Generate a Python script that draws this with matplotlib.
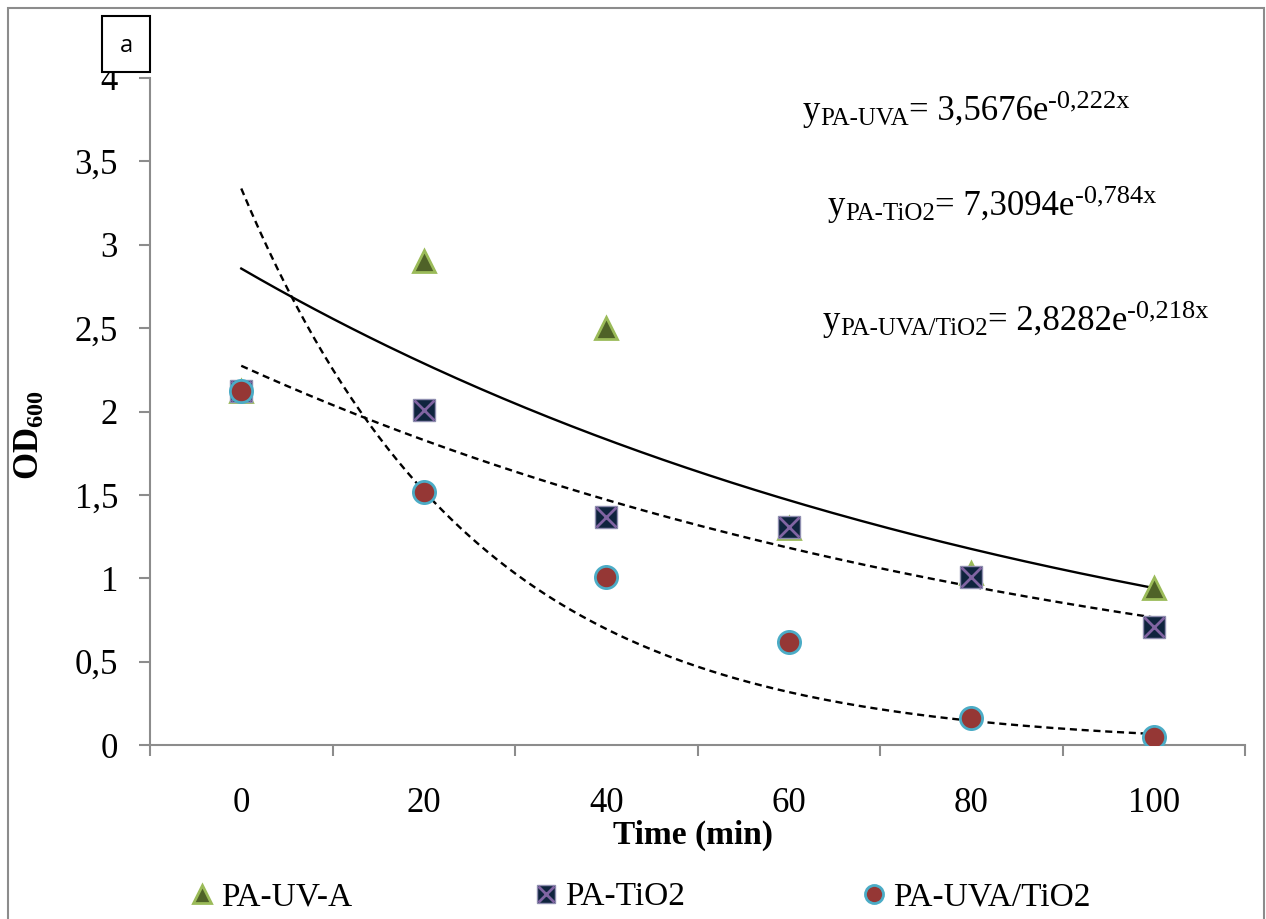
import numpy as np
import matplotlib
matplotlib.use("Agg")
import matplotlib.pyplot as plt
from matplotlib.patches import Rectangle
from matplotlib.legend_handler import HandlerTuple

plt.rcParams['font.family'] = ['Liberation Serif', 'DejaVu Serif']
plt.rcParams['mathtext.fontset'] = 'custom'
plt.rcParams['mathtext.rm'] = 'Liberation Serif'
plt.rcParams['mathtext.it'] = 'Liberation Serif:italic'
plt.rcParams['mathtext.bf'] = 'Liberation Serif:bold'

# ---- data ----
time_labels = ["0", "20", "40", "60", "80", "100"]
uva = [2.12, 2.90, 2.50, 1.30, 1.03, 0.94]
tio2 = [2.12, 2.01, 1.37, 1.31, 1.01, 0.71]
uva_tio2 = [2.12, 1.52, 1.01, 0.62, 0.16, 0.05]
series_names = ['PA-UV-A', 'PA-TiO2', 'PA-UVA/TiO2']

# exponential trendline coefficients (as displayed): y = a * exp(b * x), x = category index 1..6
trend_a = [3.5676, 7.3094, 2.8282]
trend_b = [-0.222, -0.784, -0.218]
trend_styles = ['-', (0, (3, 2)), (0, (3, 2))]

eq_subs = ['PA-UVA', 'PA-TiO2', 'PA-UVA/TiO2']
eq_coef = ['3,5676', '7,3094', '2,8282']
eq_exp = ['-0,222x', '-0,784x', '-0,218x']

W, H = 1266, 919
fig = plt.figure(figsize=(W / 100, H / 100), dpi=100)
ax = fig.add_axes([150 / W, 1 - 745 / H, (1245 - 150) / W, (745 - 78) / H])

x = np.arange(1, len(time_labels) + 1)

# trendlines
xs = np.linspace(1, 6, 200)
for a, b, ls in zip(trend_a, trend_b, trend_styles):
    ax.plot(xs, a * np.exp(b * xs), color='black', lw=1.7, linestyle=ls, zorder=2)

tri_kw = dict(linestyle='none', marker='^', markerfacecolor='#4F6228',
              markeredgecolor='#9BBB59', markeredgewidth=2)
sq_kw = dict(linestyle='none', marker='s', markerfacecolor='#0F243E',
             markeredgecolor='#8F8FB0', markeredgewidth=1)
x_kw = dict(linestyle='none', marker='x', markeredgecolor='#8064A2', markeredgewidth=2)
circ_kw = dict(linestyle='none', marker='o', markerfacecolor='#953735',
               markeredgecolor='#4BACC6', markeredgewidth=2)

ax.plot(x, uva, markersize=16, zorder=3, **tri_kw)
ax.plot(x, tio2, markersize=16, zorder=4, **sq_kw)
ax.plot(x, tio2, markersize=14, zorder=5, **x_kw)
ax.plot(x, uva_tio2, markersize=16, zorder=6, **circ_kw)

ax.set_xlim(0.5, 6.5)
ax.set_ylim(0, 4)
ax.set_yticks([0, 0.5, 1, 1.5, 2, 2.5, 3, 3.5, 4])
ax.set_yticklabels(["0", "0,5", "1", "1,5", "2", "2,5", "3", "3,5", "4"], fontsize=25)
ax.set_xticks(x)
ax.set_xticklabels(time_labels, fontsize=25)
ax.set_xticks(np.arange(0.5, 7, 1), minor=True)
ax.tick_params(axis='x', which='major', length=0, pad=30)
ax.tick_params(axis='x', which='minor', length=8, width=1.5, color='#8C8C8C')
ax.tick_params(axis='y', length=8, width=1.5, color='#8C8C8C', pad=15)
for s in ['top', 'right']:
    ax.spines[s].set_visible(False)
for s in ['left', 'bottom']:
    ax.spines[s].set_color('#8C8C8C')
    ax.spines[s].set_linewidth(1.5)

ax.set_xlabel('Time (min)', fontsize=24, fontweight='bold', va='center')
ax.xaxis.set_label_coords((693 - 150) / 1095, -(835 - 745) / 667)
ax.set_ylabel(r'$\mathbf{OD}_{\mathbf{600}}$', fontsize=25, va='center')
ax.yaxis.set_label_coords((30 - 150) / 1095, (745 - 435) / 667)

# equations composed piecewise (main text, subscript, superscript)
renderer = fig.canvas.get_renderer()


def draw_pieces(x_px, base_px, pieces):
    cur = x_px
    for txt, size, dy in pieces:
        t = fig.text(cur / W, 1 - (base_px - dy) / H, txt, fontsize=size,
                     ha='left', va='baseline')
        bb = t.get_window_extent(renderer=renderer)
        cur += bb.width


eq_pos = [(803, 120), (828, 215), (823, 330)]
for (ex, eb), sub, coef, expo in zip(eq_pos, eq_subs, eq_coef, eq_exp):
    draw_pieces(ex, eb, [('y', 25, 0), (sub, 18, -5), ('= ' + coef + 'e', 25, 0),
                         (expo, 19, 13)])

# panel label box
fig.patches.append(Rectangle((102 / W, 1 - 72 / H), 48 / W, 56 / H, transform=fig.transFigure,
                             facecolor='white', edgecolor='black', lw=1.5, zorder=10))
fig.text(126 / W, 1 - 46 / H, 'a', fontsize=17, family='Open Sans', ha='center', va='center',
         zorder=11)

# outer border
fig.patches.append(Rectangle((8 / W, -0.01), (1264 - 8) / W, 1 - 8 / H + 0.01,
                             transform=fig.transFigure, facecolor='none',
                             edgecolor='#8C8C8C', lw=1.5))

# legend (one entry per column, placed like the reference)
h1, = ax.plot([], [], markersize=13, **tri_kw)
h2a, = ax.plot([], [], markersize=13, **sq_kw)
h2b, = ax.plot([], [], markersize=11, **x_kw)
h3, = ax.plot([], [], markersize=13, **circ_kw)
handles = [h1, (h2a, h2b), h3]
leg_x = [189, 533, 861]
for hnd, name, lx in zip(handles, series_names, leg_x):
    fig.legend([hnd], [name], handler_map={tuple: HandlerTuple(ndivide=1, pad=0)},
               loc='center left', bbox_to_anchor=(lx / W, 1 - 897 / H), frameon=False,
               fontsize=24, handlelength=0.8, handletextpad=0.15, borderpad=0,
               borderaxespad=0)

fig.savefig('out.png', dpi=100)
